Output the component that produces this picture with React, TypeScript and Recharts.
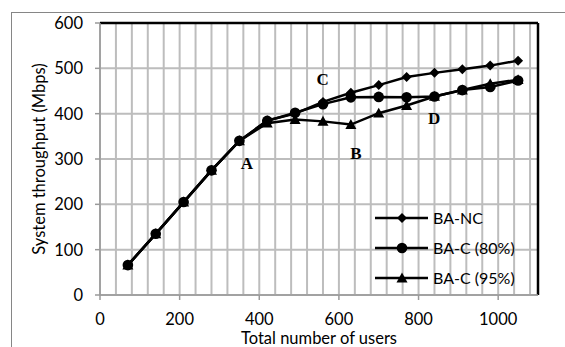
import {
  LineChart,
  Line,
  XAxis,
  YAxis,
  CartesianGrid,
  ReferenceLine,
  ReferenceDot,
  Legend,
  Label,
} from "recharts";

const users = [70, 140, 210, 280, 350, 420, 490, 560, 630, 700, 770, 840, 910, 980, 1050];
const baNc = [66, 135, 205, 275, 340, 385, 400, 426, 446, 463, 481, 490, 498, 506, 517];
const baC80 = [66, 135, 205, 275, 340, 384, 402, 421, 436, 437, 436, 438, 452, 459, 473];
const baC95 = [66, 135, 205, 275, 340, 379, 387, 383, 376, 401, 418, 438, 452, 466, 475];

const xTicks = [0, 200, 400, 600, 800, 1000];
const yTicks = [0, 100, 200, 300, 400, 500, 600];
const xGridStep = 40;

const annotations = [
  { text: "A", x: 369, y: 291 },
  { text: "C", x: 559, y: 476 },
  { text: "B", x: 643, y: 313 },
  { text: "D", x: 839, y: 390 },
];

const data = users.map((u, i) => ({
  users: u,
  nc: baNc[i],
  c80: baC80[i],
  c95: baC95[i],
}));

const FONT = "Lato, 'Open Sans', sans-serif";
const GRID = "#bdbdbd";
const AXIS = "#9a9a9a";

type Shape = "diamond" | "circle" | "triangle";

function Marker({ cx, cy, shape }: { cx: number; cy: number; shape: Shape }) {
  if (cx == null || cy == null) return null;
  if (shape === "diamond") {
    const r = 5;
    return (
      <polygon
        points={`${cx},${cy - r} ${cx + r},${cy} ${cx},${cy + r} ${cx - r},${cy}`}
        fill="#000"
      />
    );
  }
  if (shape === "circle") {
    return <circle cx={cx} cy={cy} r={5.3} fill="#000" />;
  }
  const s = 5.5;
  return (
    <polygon
      points={`${cx},${cy - s} ${cx + s},${cy + s * 0.8} ${cx - s},${cy + s * 0.8}`}
      fill="#000"
    />
  );
}

const SERIES: { key: string; name: string; shape: Shape }[] = [
  { key: "nc", name: "BA-NC", shape: "diamond" },
  { key: "c80", name: "BA-C (80%)", shape: "circle" },
  { key: "c95", name: "BA-C (95%)", shape: "triangle" },
];

function LegendBox() {
  return (
    <div style={{ fontFamily: FONT, fontSize: 16, color: "#000" }}>
      {SERIES.map((s) => (
        <div key={s.key} style={{ display: "flex", alignItems: "center", height: 30 }}>
          <svg width={58} height={16} style={{ display: "block" }}>
            <line x1={0} y1={8} x2={53} y2={8} stroke="#000" strokeWidth={2.5} />
            <Marker cx={27} cy={8} shape={s.shape} />
          </svg>
          <span style={{ lineHeight: "16px" }}>{s.name}</span>
        </div>
      ))}
    </div>
  );
}

export default function App() {
  return (
    <div
      style={{
        position: "absolute",
        left: 0,
        top: 0,
        width: 565,
        height: 347,
        background: "#fff",
        overflow: "hidden",
      }}
    >
      <div
        style={{
          position: "absolute",
          left: 11,
          top: 12,
          width: 600,
          height: 400,
          borderLeft: "1px solid #868686",
          borderTop: "1px solid #868686",
        }}
      />
      <LineChart
        width={565}
        height={347}
        data={data}
        margin={{ top: 23, right: 27, bottom: 0, left: 0 }}
        style={{ position: "absolute", left: 0, top: 0, fontFamily: FONT }}
      >
        <CartesianGrid
          stroke={GRID}
          strokeWidth={2}
          verticalCoordinatesGenerator={({ xAxis, offset }: any) => {
            const vals: number[] = [];
            for (let v = 0; v < 1100; v += xGridStep) vals.push(v);
            if (xAxis && typeof xAxis.scale === "function") {
              return vals.map((v) => xAxis.scale(v));
            }
            return vals.map((v) => offset.left + (v / 1100) * offset.width);
          }}
        />
        <XAxis
          dataKey="users"
          type="number"
          domain={[0, 1100]}
          ticks={xTicks}
          height={52}
          stroke={AXIS}
          strokeWidth={1.5}
          tickSize={5}
          tickMargin={13}
          tick={{ fill: "#000", fontSize: 16.5, fontFamily: FONT }}
        >
          <Label
            value="Total number of users"
            position="insideBottom"
            offset={3}
            style={{ fill: "#000", fontSize: 16.5, fontFamily: FONT }}
          />
        </XAxis>
        <YAxis
          type="number"
          domain={[0, 600]}
          ticks={yTicks}
          width={100}
          stroke={AXIS}
          strokeWidth={1.5}
          tickSize={5}
          tickMargin={12}
          tick={{ fill: "#000", fontSize: 16.5, fontFamily: FONT }}
        >
          <Label
            value="System throughput (Mbps)"
            angle={-90}
            position="insideLeft"
            offset={39}
            textAnchor="middle"
            style={{ fill: "#000", fontSize: 16.5, fontFamily: FONT, textAnchor: "middle" }}
          />
        </YAxis>
        <ReferenceLine y={600} stroke="#000" strokeWidth={2.5} />
        <ReferenceLine x={1100} stroke="#000" strokeWidth={2.5} />
        {SERIES.map((s) => (
          <Line
            key={s.key}
            dataKey={s.key}
            name={s.name}
            type="linear"
            stroke="#000"
            strokeWidth={2.5}
            isAnimationActive={false}
            dot={(p: any) => <Marker key={`${s.key}-${p.index}`} cx={p.cx} cy={p.cy} shape={s.shape} />}
            activeDot={false}
          />
        ))}
        {annotations.map((a) => (
          <ReferenceDot key={a.text} x={a.x} y={a.y} r={0} fill="none" stroke="none">
            <Label
              value={a.text}
              position="center"
              style={{
                fill: "#000",
                fontSize: 17,
                fontWeight: "bold",
                fontFamily: "'Liberation Serif', 'DejaVu Serif', serif",
              }}
            />
          </ReferenceDot>
        ))}
        <Legend
          layout="vertical"
          align="center"
          verticalAlign="middle"
          content={() => <LegendBox />}
          wrapperStyle={{ left: 375, top: 203, width: 170, right: "auto", bottom: "auto" }}
        />
      </LineChart>
    </div>
  );
}
